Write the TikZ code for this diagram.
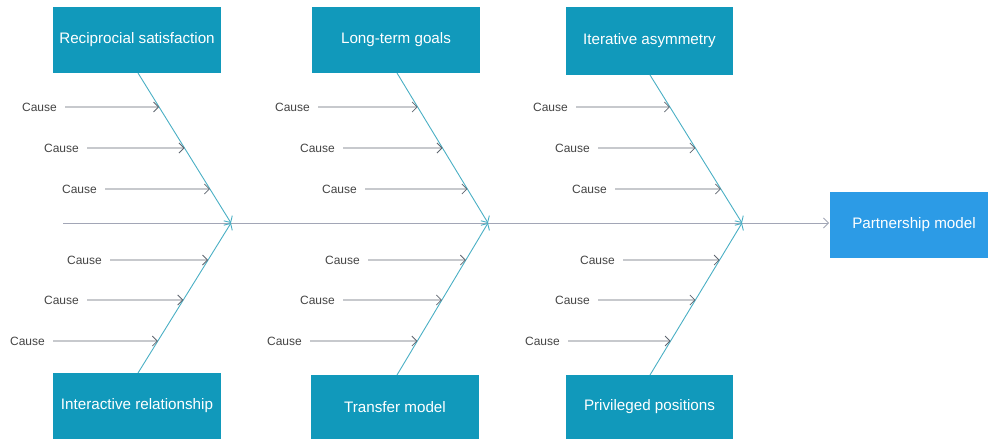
\documentclass[tikz,border=0pt]{standalone}
\usepackage{fontspec}
\setmainfont{Liberation Sans}
\usetikzlibrary{arrows.meta,calc}
\definecolor{boxteal}{HTML}{1199BB}
\definecolor{boxblue}{HTML}{2C9BE6}
\definecolor{boneteal}{HTML}{4AAFC4}
\definecolor{causegray}{HTML}{5F6670}
\definecolor{spinegray}{HTML}{A2A6B6}
\definecolor{causetext}{HTML}{444444}
\tikzset{
  catbox/.style={fill=boxteal, draw=none, text=white, font=\fontsize{15.2}{18}\selectfont},
  effbox/.style={fill=boxblue, draw=none, text=white, font=\fontsize{15.2}{18}\selectfont},
  causelbl/.style={text=causetext, font=\fontsize{12}{14}\selectfont, inner sep=0pt, anchor=east},
  causearrow/.style={draw=causegray, line width=0.8pt, -{Straight Barb[length=5pt,width=10pt,line width=0.8pt]}},
  bonearrow/.style={draw=boneteal, line width=0.9pt, -{Straight Barb[length=5pt,width=10pt,line width=0.9pt]}},
  spinearrow/.style={draw=spinegray, line width=0.8pt, -{Straight Barb[length=5pt,width=10pt,line width=0.8pt]}},
}
\begin{document}
\begin{tikzpicture}[x=1pt,y=-1pt]
\useasboundingbox (0,0) rectangle (988,439);
% category boxes
\path[fill=boxteal] (53,7) rectangle (221,73);
\node[catbox] (t1) at (137,40) {Reciprocial satisfaction};
\path[fill=boxteal] (312,7) rectangle (480,73);
\node[catbox] (t2) at (396,40) {Long-term goals};
\path[fill=boxteal] (566,7) rectangle (733,75);
\node[catbox] (t3) at (649.5,41) {Iterative asymmetry};
\path[fill=boxteal] (53,373) rectangle (221,439);
\node[catbox] (b1) at (137,406) {Interactive relationship};
\path[fill=boxteal] (311,375) rectangle (479,439);
\node[catbox] (b2) at (395,407) {Transfer model};
\path[fill=boxteal] (566,375) rectangle (733,439);
\node[catbox] (b3) at (649.5,407) {Privileged positions};
\path[fill=boxblue] (830,192) rectangle (988,258);
\node[effbox] (eff) at (914,225) {Partnership model};
% bone endpoints
\coordinate (t1s) at (138,73);  \coordinate (b1s) at (138,373); \coordinate (h1) at (231,223);
\coordinate (t2s) at (397,73);  \coordinate (b2s) at (397,375); \coordinate (h2) at (488,223);
\coordinate (t3s) at (650,75);  \coordinate (b3s) at (650,375); \coordinate (h3) at (742,223);
\coordinate (sp0) at (63,223);  \coordinate (sp1) at (829,223);
% spine
\draw[spinearrow] (sp0) -- (sp1);
% bones
\foreach \i in {1,2,3}{
  \draw[bonearrow] (t\i s) -- (h\i);
  \draw[bonearrow] (b\i s) -- (h\i);
}
% cause rows: group, row, y, line start
\foreach \g/\n/\y/\xs in {
  1/a/107/65, 1/b/148/87, 1/c/189/105, 1/d/260/110, 1/e/300/87, 1/f/341/53,
  2/a/107/318, 2/b/148/343, 2/c/189/365, 2/d/260/368, 2/e/300/343, 2/f/341/310,
  3/a/107/576, 3/b/148/598, 3/c/189/615, 3/d/260/623, 3/e/300/598, 3/f/341/568}{
  \coordinate (s\g\n) at (\xs,\y);
  \node[causelbl] (c\g\n) at ($(s\g\n)+(-8,0.8)$) {Cause};
}
\foreach \g in {1,2,3}{
  \foreach \n in {a,b,c}{
    \coordinate (e\g\n) at (intersection cs: first line={(s\g\n)--($(s\g\n)+(10,0)$)}, second line={(t\g s)--(h\g)});
    \draw[causearrow] (s\g\n) -- (e\g\n);
  }
  \foreach \n in {d,e,f}{
    \coordinate (e\g\n) at (intersection cs: first line={(s\g\n)--($(s\g\n)+(10,0)$)}, second line={(b\g s)--(h\g)});
    \draw[causearrow] (s\g\n) -- (e\g\n);
  }
}
\end{tikzpicture}
\end{document}
